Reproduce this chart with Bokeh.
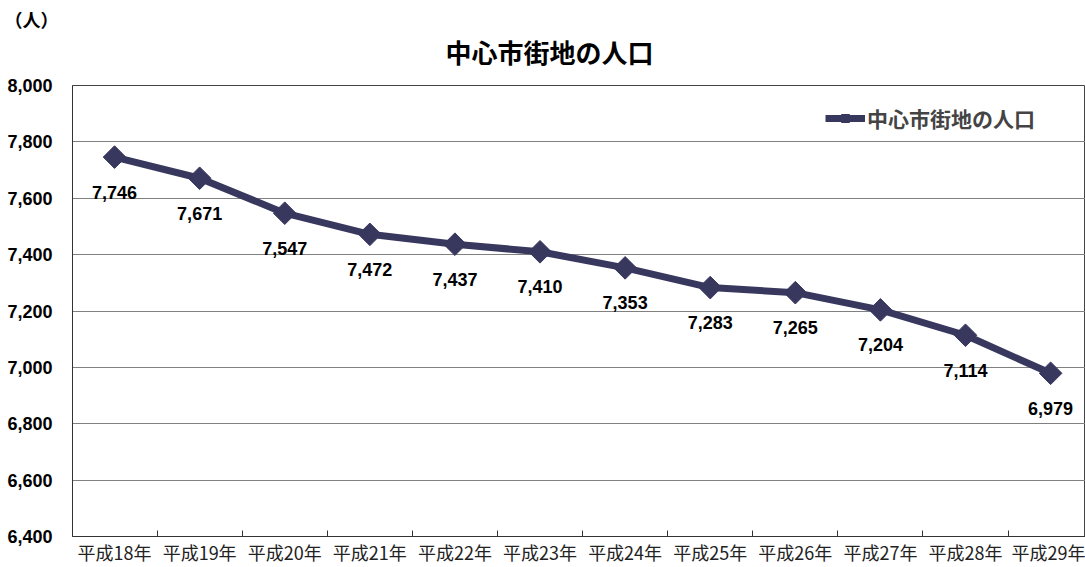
import math
from bokeh.plotting import figure
from bokeh.models import Range1d, FixedTicker, ColumnDataSource, Title, Legend, LegendItem, NumeralTickFormatter
from bokeh.core.properties import value
from bokeh.embed import file_html
from bokeh.resources import INLINE

years = ["平成18年", "平成19年", "平成20年", "平成21年", "平成22年", "平成23年",
         "平成24年", "平成25年", "平成26年", "平成27年", "平成28年", "平成29年"]
population = [7746, 7671, 7547, 7472, 7437, 7410, 7353, 7283, 7265, 7204, 7114, 6979]
series_name = "中心市街地の人口"
unit_label = "（人）"
y_ticks = [6400, 6600, 6800, 7000, 7200, 7400, 7600, 7800, 8000]

xs = list(range(len(years)))
labels = [f"{v:,}" for v in population]
src = ColumnDataSource(dict(x=xs, y=population, lab=labels))

COL = "#38385f"
unit_title = Title(text=unit_label, align="left", offset=-68, standoff=-32,
                   text_font="Noto Sans CJK JP", text_font_style="bold",
                   text_font_size="18px", text_color="black")
p = figure(width=1085, height=567, output_backend="svg", toolbar_location=None,
           x_range=Range1d(-0.494, 11.41), y_range=Range1d(6400, 8000),
           min_border_left=72, min_border_right=0, min_border_top=85, min_border_bottom=30,
           title=unit_title)
p.add_layout(Title(text=series_name, align="left", offset=373, standoff=31,
                   text_font="Noto Sans CJK JP", text_font_style="bold",
                   text_font_size="26px", text_color="black"), "above")
p.outline_line_color = "#444444"
p.outline_line_width = 1
p.background_fill_color = "white"

p.xgrid.grid_line_color = None
p.ygrid.ticker = FixedTicker(ticks=y_ticks)
p.ygrid.grid_line_color = "#808080"
p.ygrid.grid_line_width = 1

p.yaxis.ticker = FixedTicker(ticks=y_ticks)
p.yaxis.formatter = NumeralTickFormatter(format="0,0")
p.yaxis.major_tick_line_color = None
p.yaxis.minor_tick_line_color = None
p.yaxis.axis_line_color = "#333333"
p.yaxis.major_label_text_font = "Liberation Sans"
p.yaxis.major_label_text_font_style = "bold"
p.yaxis.major_label_text_font_size = "18px"
p.yaxis.major_label_text_color = "black"
p.yaxis.major_label_standoff = 14

p.xaxis.ticker = FixedTicker(ticks=xs, minor_ticks=[i + 0.5 for i in xs[:-1]])
p.xaxis.major_label_overrides = {i: y for i, y in zip(xs, years)}
p.xaxis.major_tick_line_color = None
p.xaxis.major_tick_out = 0
p.xaxis.major_tick_in = 0
p.xaxis.minor_tick_in = 6
p.xaxis.minor_tick_out = 0
p.xaxis.minor_tick_line_color = "#333333"
p.xaxis.axis_line_color = "#333333"
p.xaxis.major_label_text_font = "Noto Sans CJK JP"
p.xaxis.major_label_text_font_size = "18px"
p.xaxis.major_label_text_color = "#222222"
p.xaxis.major_label_standoff = 2

line = p.line("x", "y", source=src, line_color=COL, line_width=7)
mk = p.scatter("x", "y", source=src, marker="square", size=16, angle=math.pi / 4,
               fill_color=COL, line_color=COL)
p.text("x", "y", text="lab", source=src, text_align="center", text_baseline="middle",
       y_offset=35, text_font_size="18px", text_font_style="bold", text_color="black",
       text_font=value("Liberation Sans"))

legend = Legend(items=[LegendItem(label=series_name, renderers=[line, mk])],
                location=(753, 403), border_line_color=None, background_fill_alpha=0,
                label_text_font="Noto Sans CJK JP", label_text_font_style="bold",
                label_text_font_size="21px", glyph_width=40, label_standoff=2,
                margin=0, padding=4)
p.add_layout(legend)

open("out.html", "w").write(file_html(p, INLINE))
